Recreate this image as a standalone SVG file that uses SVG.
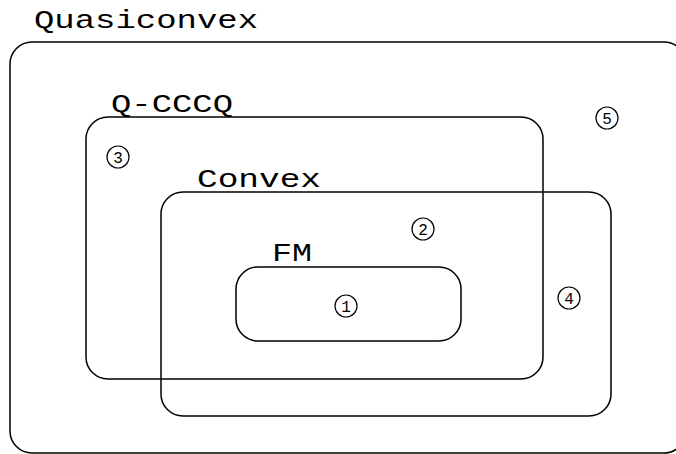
<svg xmlns="http://www.w3.org/2000/svg" width="676" height="454" viewBox="0 0 676 454">
<style>
.box{fill:none;stroke:#000;stroke-width:1.5}
.lbl{font-family:"Liberation Mono","Courier New",monospace;font-size:25px;fill:#000}
.c{fill:none;stroke:#000;stroke-width:1.2}
.n{font-family:"Liberation Mono","Courier New",monospace;font-size:16px;fill:#000;text-anchor:middle}
</style>
<rect width="676" height="454" fill="#fff"/>
<g id="quasiconvex">
<rect class="box" x="10" y="42" width="676" height="411" rx="22"/>
<text class="lbl" x="34" y="28" textLength="224" lengthAdjust="spacingAndGlyphs">Quasiconvex</text>
</g>
<g id="qcccq">
<rect class="box" x="86" y="117" width="457" height="262" rx="22"/>
<text class="lbl" x="111" y="112" textLength="122" lengthAdjust="spacingAndGlyphs">Q-CCCQ</text>
</g>
<g id="convex">
<rect class="box" x="161" y="192" width="450" height="224" rx="22"/>
<text class="lbl" x="197" y="187" textLength="124" lengthAdjust="spacingAndGlyphs">Convex</text>
</g>
<g id="fm">
<rect class="box" x="236" y="267" width="225" height="74" rx="22"/>
<text class="lbl" x="272" y="261" textLength="40" lengthAdjust="spacingAndGlyphs">FM</text>
</g>
<g id="connectors"/>
<g id="m1"><circle class="c" cx="346" cy="306" r="11"/><text class="n" x="346" y="312">1</text></g>
<g id="m2"><circle class="c" cx="423" cy="229" r="11"/><text class="n" x="423" y="235">2</text></g>
<g id="m3"><circle class="c" cx="118" cy="157" r="11"/><text class="n" x="118" y="163">3</text></g>
<g id="m4"><circle class="c" cx="569" cy="298" r="11"/><text class="n" x="569" y="304">4</text></g>
<g id="m5"><circle class="c" cx="607" cy="118" r="11"/><text class="n" x="607" y="124">5</text></g>
</svg>
